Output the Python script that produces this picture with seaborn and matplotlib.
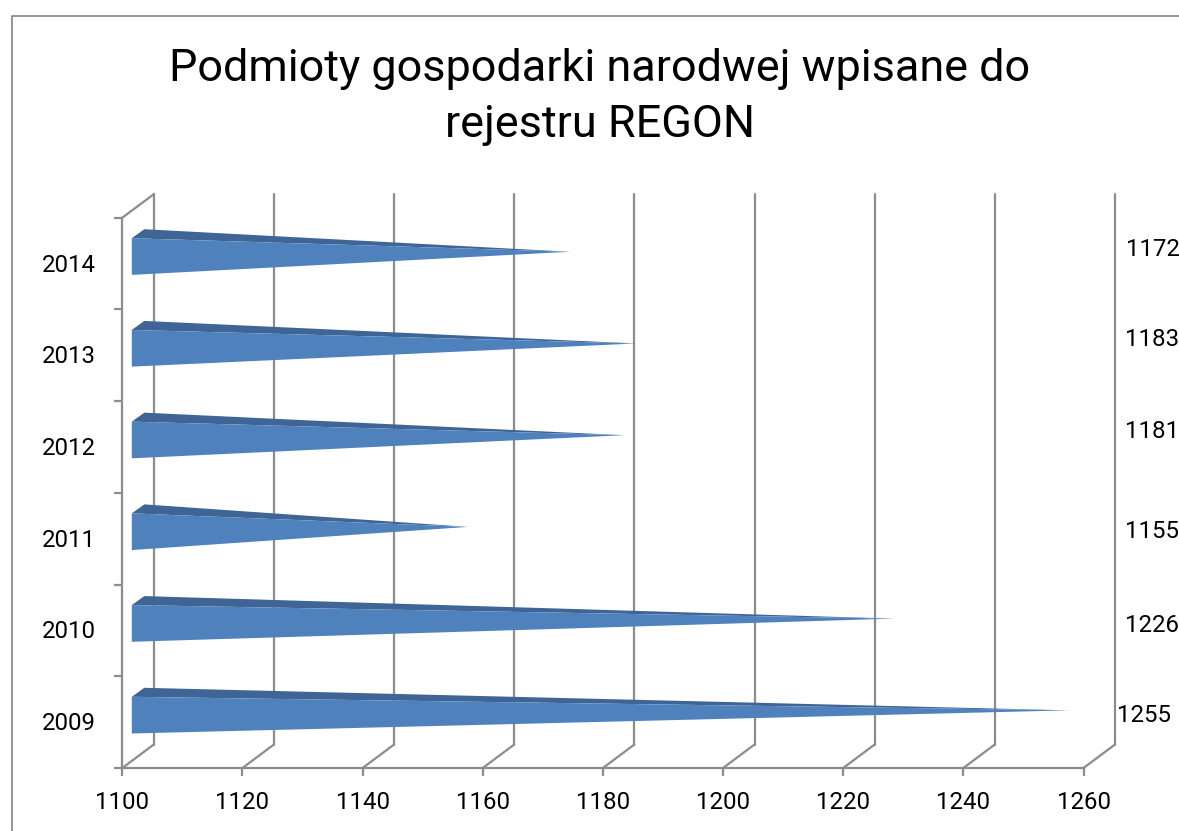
import seaborn as sns
import matplotlib
matplotlib.use("Agg")
import matplotlib.pyplot as plt
from matplotlib.lines import Line2D
from matplotlib.patches import Polygon
from matplotlib.transforms import IdentityTransform

# ====== DATA ======
years = ["2014", "2013", "2012", "2011", "2010", "2009"]
values = [1172, 1183, 1181, 1155, 1226, 1255]
x_ticks = [1100, 1120, 1140, 1160, 1180, 1200, 1220, 1240, 1260]
title = "Podmioty gospodarki narodwej wpisane do\nrejestru REGON"

# hand placed value labels (pixels, from top left)
label_pos = [(1126, 249), (1125, 340), (1125, 431), (1125, 531), (1125, 626), (1117, 715)]

W, H = 1179, 831
GRAY = "#8c8c8c"
LIGHT = "#4f81bd"
DARK = "#3e6595"
LW = 1.6
DEPTH = (31.5, 23.5)
FS = 17.3

sns.set_theme(style="white")
plt.rcParams["font.family"] = ["Roboto", "DejaVu Sans"]

fig = plt.figure(figsize=(W / 100, H / 100), dpi=100)
left, right, top, bottom = 122.3, 1083.5, 217.7, 768
ax = fig.add_axes([left / W, (H - bottom) / H, (right - left) / W, (bottom - top) / H])

sns.barplot(x=values, y=years, order=years, orient="h", width=0.40, color=LIGHT, ax=ax)
ax.set_xlim(x_ticks[0], x_ticks[-1])
ax.set_ylim(5.5, -0.5)
ax.set_xticks(x_ticks)
ax.set_xticklabels([str(t) for t in x_ticks], fontsize=FS)
ax.set_yticks([i - 0.5 for i in range(7)], minor=False)
ax.set_yticklabels([])
ax.tick_params(axis="both", which="major", length=5.8, width=LW, color=GRAY,
               bottom=True, left=True, labelcolor="black")
ax.tick_params(axis="x", pad=11)

sns.despine(ax=ax, top=True, right=True)
for side in ["left", "bottom"]:
    ax.spines[side].set_color(GRAY)
    ax.spines[side].set_linewidth(LW)


def at(x, y, dx=0, dy=0):
    # data position moved by dx right, dy up, in display pixels
    px, py = ax.transData.transform((x, y))
    return px + dx, py + dy


# back wall: gridlines and the floor / wall diagonals
for t in x_ticks:
    for p, q in [(at(t, 5.5, *DEPTH), at(t, -0.5, *DEPTH)), (at(t, 5.5), at(t, 5.5, *DEPTH))]:
        fig.add_artist(Line2D([p[0], q[0]], [p[1], q[1]], color=GRAY, lw=LW, zorder=1,
                              transform=IdentityTransform()))
p, q = at(x_ticks[0], -0.5), at(x_ticks[0], -0.5, *DEPTH)
fig.add_artist(Line2D([p[0], q[0]], [p[1], q[1]], color=GRAY, lw=LW, zorder=1,
                      transform=IdentityTransform()))

# cones: seaborn lays the bars out, each one is redrawn as a flattened cone
for patch, val in zip(list(ax.patches), values):
    y0, y1 = patch.get_y(), patch.get_y() + patch.get_height()
    yc = (y0 + y1) / 2
    x0 = x_ticks[0]
    tip = at(val, yc, 15, 11.8)
    top_front = at(x0, y0, 9.5, 7)
    bot_front = at(x0, y1, 9.5, 7)
    top_back = at(x0, y0, 22, 16)
    fig.add_artist(Polygon([top_front, top_back, tip], closed=True, fc=DARK, ec="none",
                           zorder=2, transform=IdentityTransform()))
    fig.add_artist(Polygon([top_front, tip, bot_front], closed=True, fc=LIGHT, ec="none",
                           zorder=3, transform=IdentityTransform()))
    patch.remove()

for i, year in enumerate(years):
    px, py = at(x_ticks[0], i)
    fig.text((px - 26) / W, (py - 1.5) / H, year, ha="right", va="center", fontsize=FS, color="black")

for val, (lx, ly) in zip(values, label_pos):
    fig.text(lx / W, (H - ly) / H, str(val), ha="left", va="center", fontsize=FS, color="black")

fig.text(600 / W, (H - 97) / H, title, ha="center", va="center", fontsize=32.4, color="black",
         linespacing=1.45)

# chart frame, runs off the picture on the right and bottom
fig.add_artist(Line2D([11.5 / W, 11.5 / W, 1], [0, (H - 15.5) / H, (H - 15.5) / H],
                      color=GRAY, lw=1.3))

fig.savefig("out.png", dpi=100, facecolor="white")
